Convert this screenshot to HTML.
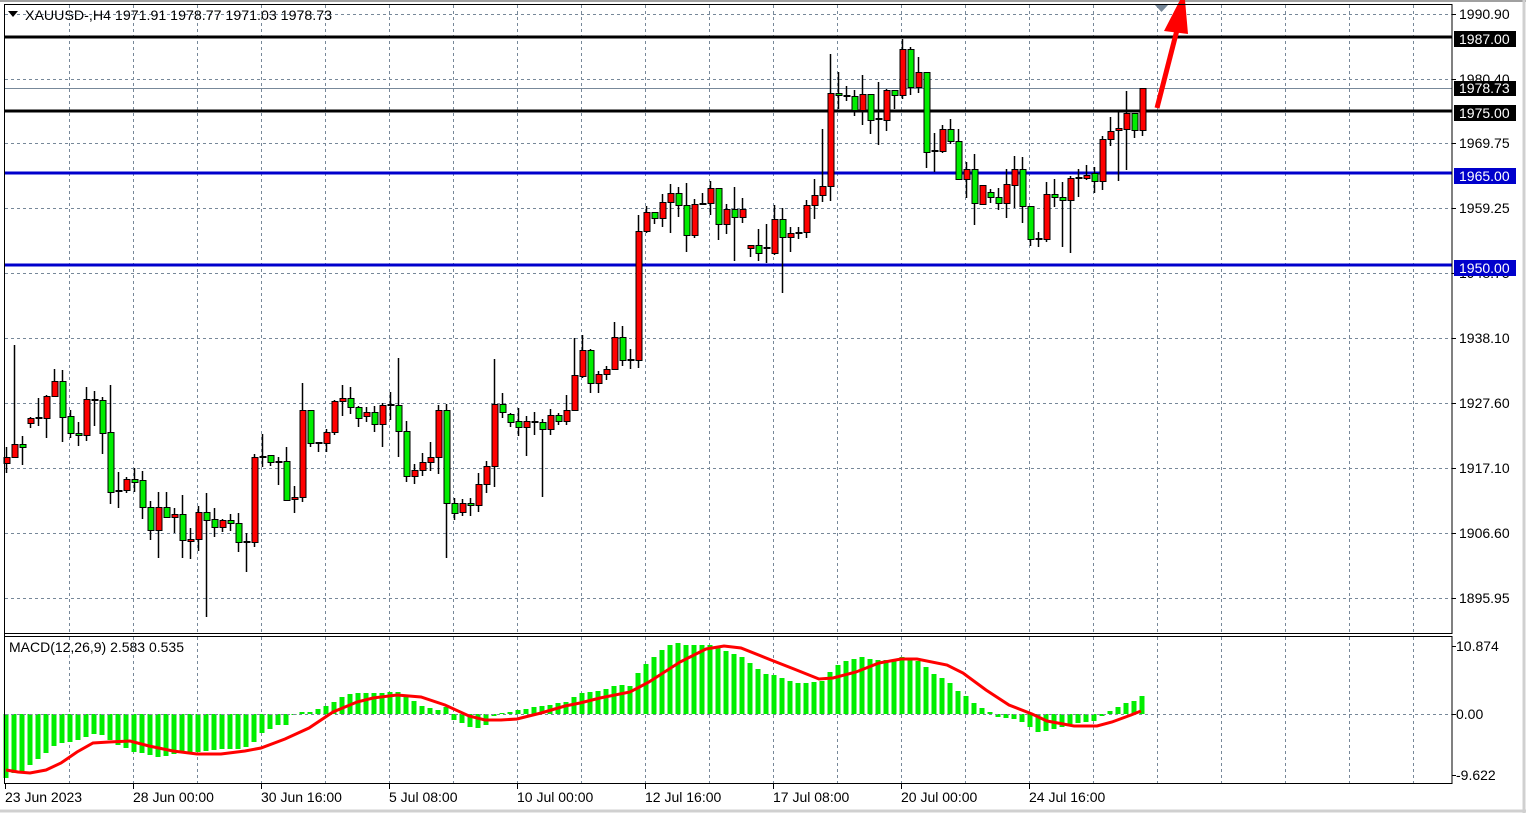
<!DOCTYPE html>
<html><head><meta charset="utf-8"><style>
html,body{margin:0;padding:0;background:#fff;}
svg{display:block;font-family:"Liberation Sans",sans-serif;}
</style></head><body>
<svg id="s" width="1526" height="813" xmlns="http://www.w3.org/2000/svg">
<rect x="0" y="0" width="1526" height="813" fill="#fff"/>
<line x1="0" y1="1" x2="1526" y2="1" stroke="#a0a0a0" stroke-width="2"/>
<line x1="0" y1="811" x2="1526" y2="811" stroke="#d0d0d0" stroke-width="3"/>
<line x1="1524" y1="0" x2="1524" y2="813" stroke="#d0d0d0" stroke-width="3"/>
<g id="grid" stroke="#778899" stroke-width="1" stroke-dasharray="3,3"></g>
<g id="hist" fill="#00ee00"></g>
<line x1="5" y1="714.5" x2="1452" y2="714.5" stroke="#778899" stroke-dasharray="3,3"/>
<polyline fill="none" stroke="#ff0000" stroke-width="3" points="6,770 18,772 30,773 46,770 61,763 77,752 93,743 109,742 130,741 149,746 173,751 197,754 221,754 245,751 261,748 285,739 309,728 333,712 357,702 373,698 397,695 421,697 445,705 469,716 485,720 501,720 517,719 541,713 565,706 580,703 600,698 630,692 649,682 680,662 706,649 724,646 741,648 771,660 794,669 819,679 833,678 856,672 879,663 901,659 917,659 947,665 963,673 986,690 1009,705 1032,714 1047,721 1074,726 1097,726 1112,722 1131,715 1141,711"/>
<line x1="4" y1="37" x2="1452" y2="37" stroke="#000" stroke-width="3"/>
<line x1="4" y1="88.5" x2="1452" y2="88.5" stroke="#778899" stroke-width="1"/>
<line x1="4" y1="111" x2="1452" y2="111" stroke="#000" stroke-width="3"/>
<line x1="4" y1="173" x2="1452" y2="173" stroke="#0000cc" stroke-width="3"/>
<line x1="4" y1="265" x2="1452" y2="265" stroke="#0000cc" stroke-width="3"/>
<g id="candles"></g>
<line x1="1157" y1="108" x2="1177" y2="30" stroke="#ff0000" stroke-width="5"/>
<polygon points="1164,31 1188,34 1185,0 1180,0" fill="#ff0000"/>
<polygon points="1155,5 1168,5 1161.5,12" fill="#778899"/>
<rect x="4.5" y="4.5" width="1447.5" height="629" fill="none" stroke="#000" stroke-width="1"/>
<rect x="4.5" y="636.5" width="1447.5" height="147" fill="none" stroke="#000" stroke-width="1"/>
<line x1="4.5" y1="4" x2="4.5" y2="784" stroke="#000"/>
<g id="ticks" stroke="#000"></g>
<g font-size="14" fill="#000">
<text x="1459" y="19">1990.90</text>
<text x="1459" y="84">1980.40</text>
<text x="1459" y="148">1969.75</text>
<text x="1459" y="213">1959.25</text>
<text x="1459" y="278">1948.75</text>
<text x="1459" y="343">1938.10</text>
<text x="1459" y="408">1927.60</text>
<text x="1459" y="473">1917.10</text>
<text x="1459" y="538">1906.60</text>
<text x="1459" y="603">1895.95</text>
<text x="1456" y="651">10.874</text>
<text x="1456" y="719">0.00</text>
<text x="1456" y="780">-9.622</text>
</g>
<rect x="1454" y="31" width="62" height="16" fill="#000"/>
<rect x="1454" y="81" width="62" height="15" fill="#000"/>
<rect x="1454" y="105" width="62" height="16" fill="#000"/>
<rect x="1454" y="168" width="62" height="16" fill="#0000cc"/>
<rect x="1454" y="260" width="62" height="16" fill="#0000cc"/>
<g font-size="14" fill="#fff">
<text x="1459" y="44">1987.00</text>
<text x="1459" y="93">1978.73</text>
<text x="1459" y="118">1975.00</text>
<text x="1459" y="181">1965.00</text>
<text x="1459" y="273">1950.00</text>
</g>
<g font-size="14" fill="#000">
<text x="5" y="802">23 Jun 2023</text>
<text x="133" y="802">28 Jun 00:00</text>
<text x="261" y="802">30 Jun 16:00</text>
<text x="389" y="802">5 Jul 08:00</text>
<text x="517" y="802">10 Jul 00:00</text>
<text x="645" y="802">12 Jul 16:00</text>
<text x="773" y="802">17 Jul 08:00</text>
<text x="901" y="802">20 Jul 00:00</text>
<text x="1029" y="802">24 Jul 16:00</text>
<text x="9" y="652" textLength="175" lengthAdjust="spacingAndGlyphs">MACD(12,26,9) 2.583 0.535</text>
</g>
<polygon points="8,11 18,11 13,17" fill="#000"/>
<text x="25" y="20" font-size="14" fill="#000" textLength="307" lengthAdjust="spacingAndGlyphs">XAUUSD-,H4  1971.91 1978.77 1971.03 1978.73</text>
</svg>
<script>
var NS="http://www.w3.org/2000/svg";
function el(p,t,a){var e=document.createElementNS(NS,t);for(var k in a)e.setAttribute(k,a[k]);p.appendChild(e);return e;}
var grid=document.getElementById("grid");
for(var k=1;k<=22;k++){var x=5+64*k+0.5;el(grid,"line",{x1:x,y1:5,x2:x,y2:633});el(grid,"line",{x1:x,y1:637,x2:x,y2:783});}
[14,79,143,208,273,338,403,468,533,598].forEach(function(y){el(grid,"line",{x1:5,y1:y+0.5,x2:1452,y2:y+0.5});});
var tk=document.getElementById("ticks");
[14,79,143,208,273,338,403,468,533,598,646,714,775].forEach(function(y){el(tk,"line",{x1:1452,y1:y+0.5,x2:1456,y2:y+0.5});});
[5,133,261,389,517,645,773,901,1029].forEach(function(x){el(tk,"line",{x1:x+0.5,y1:784,x2:x+0.5,y2:789});});
var H=[778,773,771,765,759,753,746,743,742,740,737,734,735,740,745,748,752,753,755,757,756,754,753,753,752,751,750,749,749,749,747,742,733,729,725,725,715,712,712,709,706,702,697,694,693,693,693,693,692,692,697,701,706,708,710,707,720,723,727,728,725,716,713,712,710,709,707,706,705,703,702,697,
693,692,691,689,686,685,686,673,664,657,650,645,643,645,645,645,645,648,651,654,657,663,669,674,675,678,681,683,683,682,681,672,665,661,659,657,659,660,660,660,657,660,661,667,674,678,683,691,696,703,708,712,717,718,719,722,727,732,731,729,727,724,723,722,721,716,711,707,703,701,696];
var hg=document.getElementById("hist");
H.forEach(function(v,i){var x=6+8*i;var y0=Math.min(v,714),y1=Math.max(v,714);el(hg,"rect",{x:x-2.5,y:y0,width:5,height:Math.max(1,y1-y0)});});
var C=`r 457 463 447 473
r 444 457 345 458
g 444 447 436 465
r 418 423 417 428
d 418 418 398 426
r 396 418 395 438
r 381 396 369 396
g 381 417 370 442
g 416 433 410 438
g 433 435 422 446
r 399 435 387 441
d 400 400 391 426
g 400 433 397 454
g 432 492 385 504
d 491 491 472 508
r 479 490 477 493
g 479 482 468 492
g 480 507 471 519
g 507 530 501 540
r 507 530 492 558
g 507 517 492 517
r 514 517 508 533
g 514 540 495 558
r 539 541 528 559
r 512 539 506 551
g 512 520 493 617
g 519 527 508 537
r 520 527 519 532
g 520 523 514 531
g 523 542 513 552
d 542 542 533 572
r 457 542 454 547
d 457 457 434 467
g 455 462 455 466
d 462 462 457 485
g 461 500 447 501
r 497 499 486 513
r 410 497 383 502
g 410 443 410 447
d 443 443 442 452
r 432 443 429 452
r 401 432 400 435
r 398 401 385 416
g 398 407 387 414
g 407 418 406 427
r 412 416 407 422
g 412 424 406 432
r 405 424 403 447
d 405 405 392 420
g 405 431 358 457
g 431 476 421 482
r 470 476 464 484
r 462 470 453 476
r 457 462 442 471
r 410 457 405 474
g 410 503 404 558
g 503 513 498 520
r 503 512 499 516
g 503 505 498 516
r 484 505 473 512
r 466 484 461 493
r 404 466 359 487
g 404 412 393 418
g 414 422 413 427
g 421 427 408 436
r 421 427 416 456
d 422 422 412 435
g 422 429 419 497
r 415 429 409 435
g 415 421 413 425
r 410 421 395 425
r 375 410 338 411
r 350 376 335 378
g 350 383 349 393
r 374 383 371 393
r 369 374 366 380
r 337 369 322 369
g 337 360 326 366
d 360 360 349 369
r 231 360 215 368
r 212 231 206 233
g 212 218 212 224
r 202 218 194 227
r 193 202 184 233
g 193 205 187 217
g 205 235 183 252
r 204 235 199 238
d 204 204 193 205
r 188 203 181 215
g 188 224 188 240
r 209 224 204 234
g 209 217 187 261
r 209 217 198 223
r 245 248 245 257
g 245 253 229 261
d 248 248 224 263
r 219 253 205 255
g 219 237 208 293
r 233 237 227 252
d 233 233 227 239
r 205 232 200 238
r 195 205 179 219
r 186 195 129 202
r 93 186 54 201
g 93 95 72 109
d 96 96 86 101
g 96 110 90 116
r 94 110 75 125
g 94 120 94 134
d 119 119 82 145
r 90 120 89 131
g 90 95 90 109
r 49 95 39 99
g 49 87 47 95
r 72 87 57 93
g 72 152 72 168
d 151 151 133 172
r 129 151 125 153
g 129 141 119 144
g 141 179 129 180
r 169 179 162 198
g 169 203 154 225
r 185 204 185 204
g 192 197 189 203
g 197 203 188 210
r 184 203 169 218
r 169 185 156 208
g 169 206 157 223
g 206 239 206 246
d 239 239 232 247
r 194 239 182 242
g 194 197 179 207
g 197 200 182 247
r 178 200 176 253
d 178 178 169 197
r 175 178 165 180
g 173 181 167 193
r 139 181 136 190
r 131 139 117 146
r 128 130 111 181
r 113 129 91 170
g 113 130 113 138
r 88 130 88 136`.split("\n");
var cg=document.getElementById("candles");
C.forEach(function(line,i){var p=line.trim().split(/\s+/);var c=p[0],t=+p[1],b=+p[2],h=+p[3],l=+p[4];var x=6+8*i;
el(cg,"line",{x1:x+0.5,y1:h,x2:x+0.5,y2:l,stroke:"#000","stroke-width":1.5});
if(c=="d"){el(cg,"rect",{x:x-2.5,y:t-1,width:7,height:2,fill:"#000"});}
else{el(cg,"rect",{x:x-2,y:t+0.5,width:6,height:Math.max(1,b-t),fill:c=="r"?"#ff0000":"#00ee00",stroke:"#000","stroke-width":1});}
});
</script>
</body></html>
